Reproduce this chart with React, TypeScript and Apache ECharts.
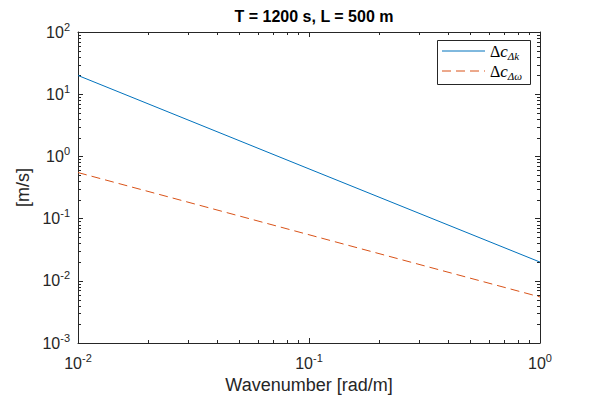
import React, { useEffect, useRef } from "react";
import * as echarts from "echarts";

const wavenumbers = [0.01, 0.1, 1];
const dcDk = [20, 0.63, 0.02];
const dcDw = [0.55, 0.055, 0.0055];
const xMinorTicks = [0.02, 0.03, 0.04, 0.05, 0.06, 0.07, 0.08, 0.09, 0.2, 0.3, 0.4, 0.5, 0.6, 0.7, 0.8, 0.9];
const yMinorTicks = [
  0.002, 0.003, 0.004, 0.005, 0.006, 0.007, 0.008, 0.009,
  0.02, 0.03, 0.04, 0.05, 0.06, 0.07, 0.08, 0.09,
  0.2, 0.3, 0.4, 0.5, 0.6, 0.7, 0.8, 0.9,
  2, 3, 4, 5, 6, 7, 8, 9,
  20, 30, 40, 50, 60, 70, 80, 90,
];
const legendLabels = ["{n|Δ}{i|c}{s|Δk}", "{n|Δ}{i|c}{s|Δω}"];

const AX = "#262626";
const BLUE = "#0072BD";
const RED = "#D95319";
const FONT = "'Liberation Sans', Arial, Helvetica, sans-serif";
const SERIF = "'Liberation Serif', 'DejaVu Serif', serif";
const XMIN = 0.01, XMAX = 1, YMIN = 0.001, YMAX = 100;

const supLabel = (v: number) => {
  const e = Math.round(Math.log10(v));
  return `{b|10}{s|${e}}`;
};
const labelRich = {
  b: { fontSize: 16, color: AX, fontFamily: FONT },
  s: { fontSize: 11, color: AX, fontFamily: FONT, verticalAlign: "top", padding: [0, 0, 11, 0] },
};
const legendRich = {
  n: { fontFamily: SERIF, fontSize: 16, fill: "#000" },
  i: { fontFamily: SERIF, fontStyle: "italic", fontSize: 17, fill: "#000" },
  s: { fontFamily: SERIF, fontStyle: "italic", fontSize: 11, fill: "#000", verticalAlign: "bottom", padding: [9, 0, 0, 0] },
};

export default function App() {
  const ref = useRef<HTMLDivElement>(null);
  useEffect(() => {
    if (!ref.current) return;
    const chart = echarts.init(ref.current, null, { renderer: "svg" });
    const axisCommon = {
      type: "log",
      logBase: 10,
      axisLine: { show: true, onZero: false, lineStyle: { color: AX, width: 1 } },
      axisTick: { show: true, inside: true, length: 5, lineStyle: { color: AX } },
      splitLine: { show: false },
    };
    const ml = 3;
    const tickStyle = { stroke: AX, lineWidth: 1 };
    const option: any = {
      animation: false,
      backgroundColor: "#ffffff",
      title: {
        text: "T = 1200 s, L = 500 m",
        left: 309,
        textAlign: "center",
        top: 3,
        textStyle: { fontFamily: FONT, fontSize: 16, fontWeight: "bold", color: "#000" },
      },
      grid: { left: 78, right: 58, top: 32, bottom: 56, containLabel: false },
      xAxis: [
        {
          ...axisCommon,
          min: XMIN,
          max: XMAX,
          position: "bottom",
          name: "Wavenumber [rad/m]",
          nameLocation: "middle",
          nameGap: 32,
          nameTextStyle: { fontFamily: FONT, fontSize: 18, color: AX },
          axisLabel: { formatter: supLabel, rich: labelRich, margin: 9 },
        },
        {
          ...axisCommon,
          min: XMIN,
          max: XMAX,
          position: "top",
          axisLabel: { show: false },
        },
      ],
      yAxis: [
        {
          ...axisCommon,
          min: YMIN,
          max: YMAX,
          position: "left",
          name: "[m/s]",
          nameLocation: "middle",
          nameGap: 46,
          nameRotate: 90,
          nameTextStyle: { fontFamily: FONT, fontSize: 18, color: AX },
          axisLabel: { formatter: supLabel, rich: labelRich, margin: 8 },
        },
        {
          ...axisCommon,
          min: YMIN,
          max: YMAX,
          position: "right",
          axisLabel: { show: false },
        },
      ],
      graphic: [
        {
          type: "group",
          left: 437,
          top: 40,
          z: 100,
          children: [
            { type: "rect", shape: { x: 0.5, y: 0.5, width: 93, height: 44 }, style: { fill: "#fff", stroke: AX, lineWidth: 1 } },
            { type: "line", shape: { x1: 5, y1: 11, x2: 48, y2: 11 }, style: { stroke: BLUE, lineWidth: 1 } },
            { type: "line", shape: { x1: 5, y1: 31, x2: 48, y2: 31 }, style: { stroke: RED, lineWidth: 1, lineDash: [9, 5] } },
            { type: "text", x: 53, y: 11, style: { text: legendLabels[0], rich: legendRich, verticalAlign: "middle", textAlign: "left" } },
            { type: "text", x: 53, y: 31, style: { text: legendLabels[1], rich: legendRich, verticalAlign: "middle", textAlign: "left" } },
          ],
        },
      ],
      series: [
        {
          name: "dk",
          type: "line",
          data: wavenumbers.map((x, i) => [x, dcDk[i]]),
          showSymbol: false,
          symbol: "none",
          lineStyle: { color: BLUE, width: 1 },
          itemStyle: { color: BLUE },
        },
        {
          name: "dw",
          type: "line",
          data: wavenumbers.map((x, i) => [x, dcDw[i]]),
          showSymbol: false,
          symbol: "none",
          lineStyle: { color: RED, width: 1, type: [9, 5] },
          itemStyle: { color: RED },
        },
        {
          name: "xminor",
          type: "custom",
          silent: true,
          clip: false,
          data: xMinorTicks.map((x) => [x, 1]),
          renderItem: (_p: any, api: any) => {
            const x = api.value(0);
            const b = api.coord([x, YMIN]);
            const t = api.coord([x, YMAX]);
            const px = Math.round(b[0]) + 0.5;
            return {
              type: "group",
              children: [
                { type: "line", shape: { x1: px, y1: b[1], x2: px, y2: b[1] - ml }, style: tickStyle },
                { type: "line", shape: { x1: px, y1: t[1], x2: px, y2: t[1] + ml }, style: tickStyle },
              ],
            };
          },
        },
        {
          name: "yminor",
          type: "custom",
          silent: true,
          clip: false,
          data: yMinorTicks.map((y) => [0.1, y]),
          renderItem: (_p: any, api: any) => {
            const y = api.value(1);
            const l = api.coord([XMIN, y]);
            const r = api.coord([XMAX, y]);
            const py = Math.round(l[1]) + 0.5;
            return {
              type: "group",
              children: [
                { type: "line", shape: { x1: l[0], y1: py, x2: l[0] + ml, y2: py }, style: tickStyle },
                { type: "line", shape: { x1: r[0], y1: py, x2: r[0] - ml, y2: py }, style: tickStyle },
              ],
            };
          },
        },
      ],
    };
    chart.setOption(option);
    return () => chart.dispose();
  }, []);
  return <div ref={ref} style={{ width: 598, height: 399, position: "absolute", left: 0, top: 0 }} />;
}
